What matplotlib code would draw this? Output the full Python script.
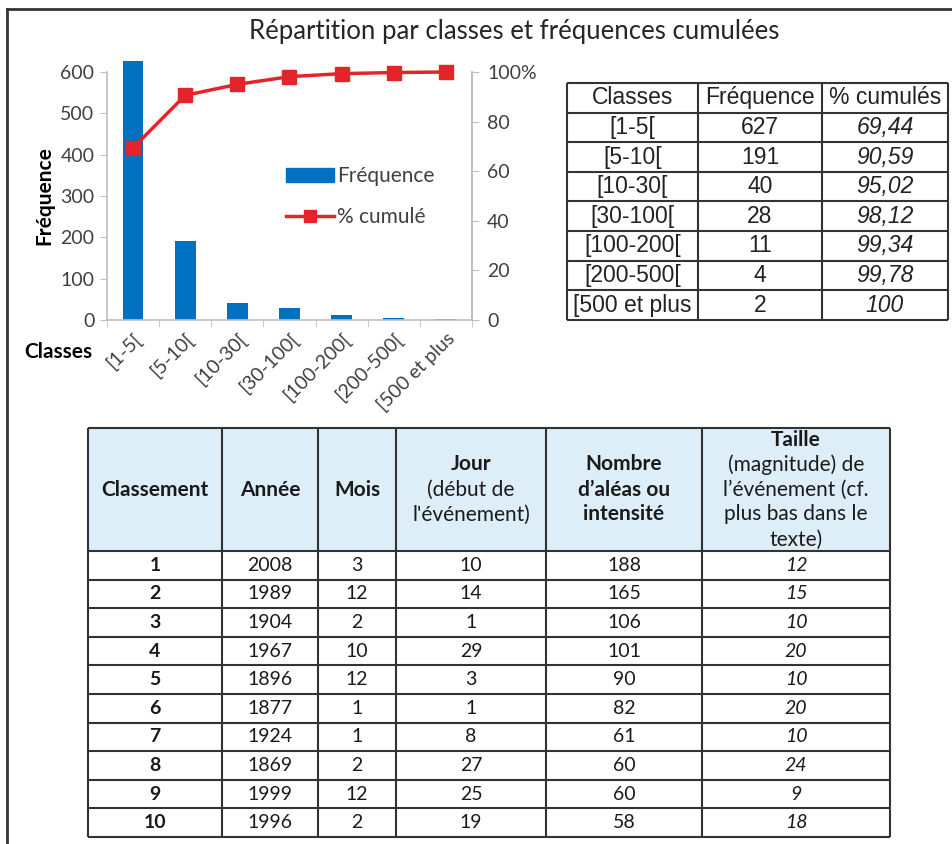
import matplotlib
matplotlib.use("Agg")
import matplotlib.pyplot as plt
from matplotlib.lines import Line2D
from matplotlib.patches import Patch
import numpy as np

# ---------------- data ----------------
classes = ['[1-5[', '[5-10[', '[10-30[', '[30-100[', '[100-200[', '[200-500[', '[500 et plus']
frequence = [627, 191, 40, 28, 11, 4, 2]
cumul = [69.44, 90.59, 95.02, 98.12, 99.34, 99.78, 100]
cumul_labels = ['69,44', '90,59', '95,02', '98,12', '99,34', '99,78', '100']

left_ticks = [0, 100, 200, 300, 400, 500, 600]
right_ticks = [0, 20, 40, 60, 80, 100]
right_tick_labels = ['0', '20', '40', '60', '80', '100%']

classement = [1, 2, 3, 4, 5, 6, 7, 8, 9, 10]
annee = [2008, 1989, 1904, 1967, 1896, 1877, 1924, 1869, 1999, 1996]
mois = [3, 12, 2, 10, 12, 1, 1, 2, 12, 2]
jour = [10, 14, 1, 29, 3, 1, 8, 27, 25, 19]
nombre = [188, 165, 106, 101, 90, 82, 61, 60, 60, 58]
taille = [12, 15, 10, 20, 10, 20, 10, 24, 9, 18]

# headers: list of (text, bold) lines
headers = [
    [("Classement", True)],
    [("Année", True)],
    [("Mois", True)],
    [("Jour", True), ("(début de", False), ("l'événement)", False)],
    [("Nombre", True), ("d’aléas ou", True), ("intensité", True)],
    [("Taille", True), ("(magnitude) de", False), ("l’événement (cf.", False),
     ("plus bas dans le", False), ("texte)", False)],
]

# ---------------- styles ----------------
W, H = 953, 844
FONT = 'Lato'
BLUE = '#0070C0'
RED = '#E3242B'
GRID = '#BFBFBF'
TXT = '#404040'
TICK_FS = 14

fig = plt.figure(figsize=(W / 100, H / 100), dpi=100)
fig.patch.set_facecolor('white')

def fx(px):
    return px / W

def fy(py):
    return 1 - py / H

# frame (top and left edges)
fig.add_artist(Line2D([fx(7), 1], [fy(9), fy(9)], color='#333333', lw=2))
fig.add_artist(Line2D([fx(7), fx(7)], [fy(9), 0], color='#333333', lw=2))

# ---------------- chart ----------------
ax = fig.add_axes([fx(107), fy(320), fx(472) - fx(107), fy(72) - fy(320)])
x = np.arange(len(classes))
bars = ax.bar(x, frequence, width=0.4, color=BLUE, clip_on=False, zorder=2)
ax.set_xlim(-0.5, len(classes) - 0.5)
ax.set_ylim(0, 600)
ax.set_yticks(left_ticks)
ax.set_yticklabels([str(v) for v in left_ticks], fontsize=TICK_FS, color=TXT, family=FONT)
ax.set_xticks(x)
ax.set_xticklabels(classes, rotation=45, ha='right', va='top', rotation_mode='anchor',
                   fontsize=TICK_FS, color=TXT, family=FONT)
ax.set_xticks(np.arange(len(classes) + 1) - 0.5, minor=True)
ax.tick_params(axis='x', which='major', length=0, pad=7)
ax.tick_params(axis='x', which='minor', length=5, color=GRID, direction='out')
ax.tick_params(axis='y', length=5, color=GRID, direction='out', pad=4)
ax.spines['top'].set_visible(False)
for s in ['left', 'bottom', 'right']:
    ax.spines[s].set_color(GRID)
    ax.spines[s].set_linewidth(1.2)
ax.set_ylabel('Fréquence', fontsize=15, fontweight='bold', family=FONT, labelpad=4)

ax2 = ax.twinx()
line, = ax2.plot(x, cumul, color=RED, lw=2.5, marker='s', markersize=10, clip_on=False, zorder=3)
ax2.set_ylim(0, 100)
ax2.set_yticks(right_ticks)
ax2.set_yticklabels(right_tick_labels, fontsize=TICK_FS, color=TXT, family=FONT)
ax2.tick_params(axis='y', length=5, color=GRID, direction='out', pad=6)
for s in ['top', 'left', 'bottom']:
    ax2.spines[s].set_visible(False)
ax2.spines['right'].set_color(GRID)
ax2.spines['right'].set_linewidth(1.2)

ax.text(-0.04, -0.13, 'Classes', transform=ax.transAxes, ha='right', va='center',
        fontsize=15, fontweight='bold', family=FONT)

leg = ax2.legend([Patch(color=BLUE), Line2D([], [], color=RED, lw=2.5, marker='s', markersize=8)],
                 ['Fréquence', '% cumulé'],
                 loc='upper left', bbox_to_anchor=(0.44, 0.695), frameon=False,
                 handlelength=2.3, handletextpad=0.15, labelspacing=1.0,
                 prop={'family': FONT, 'size': 15})
for t in leg.get_texts():
    t.set_color(TXT)

fig.text(fx(514), fy(32), 'Répartition par classes et fréquences cumulées', ha='center', va='center',
         fontsize=18.5, family=FONT, color='#262626')

# ---------------- right table ----------------
axr = fig.add_axes([fx(567), fy(320), fx(948) - fx(567), fy(83) - fy(320)])
rcol_w = [131, 124, 126]
rcol_edges = np.concatenate([[0], np.cumsum(rcol_w)])
nrows_r = len(classes) + 1
axr.set_xlim(0, rcol_edges[-1])
axr.set_ylim(nrows_r, 0)
axr.axis('off')
for e in rcol_edges:
    axr.vlines(e, 0, nrows_r, color='#333333', lw=1.5, clip_on=False)
for r in range(nrows_r + 1):
    axr.hlines(r, 0, rcol_edges[-1], color='#333333', lw=1.5, clip_on=False)
RFONT = 'Liberation Sans'
RFS = 16.5
rc = (rcol_edges[:-1] + rcol_edges[1:]) / 2
for j, h in enumerate(['Classes', 'Fréquence', '% cumulés']):
    axr.text(rc[j], 0.5, h, ha='center', va='center', fontsize=RFS, family=RFONT, color='#222222')
for i in range(len(classes)):
    axr.text(rc[0], i + 1.5, classes[i], ha='center', va='center', fontsize=RFS, family=RFONT, color='#222222')
    axr.text(rc[1], i + 1.5, str(frequence[i]), ha='center', va='center', fontsize=RFS, family=RFONT, color='#222222')
    axr.text(rc[2], i + 1.5, cumul_labels[i], ha='center', va='center', fontsize=RFS, family=RFONT,
             style='italic', color='#222222')

# ---------------- bottom table ----------------
axb = fig.add_axes([fx(88), fy(837), fx(890) - fx(88), fy(428) - fy(837)])
bcol_w = [134, 96, 78, 150, 156, 188]
bcol_edges = np.concatenate([[0], np.cumsum(bcol_w)])
head_h = 123
row_h = 28.6
nrows = len(classement)
total_h = head_h + nrows * row_h
axb.set_xlim(0, bcol_edges[-1])
axb.set_ylim(total_h, 0)
axb.axis('off')
axb.fill_between([0, bcol_edges[-1]], 0, head_h, color='#DDEEF8', lw=0)
for e in bcol_edges:
    axb.vlines(e, 0, total_h, color='#333333', lw=1.5, clip_on=False)
row_edges = [0] + [head_h + k * row_h for k in range(nrows + 1)]
for yv in row_edges:
    axb.hlines(yv, 0, bcol_edges[-1], color='#333333', lw=1.5, clip_on=False)

bc = (bcol_edges[:-1] + bcol_edges[1:]) / 2
HSIZE = 15
BSIZE = 14
for j, lines in enumerate(headers):
    n = len(lines)
    for k, (t, b) in enumerate(lines):
        yv = head_h / 2 + (k - (n - 1) / 2) * 25
        axb.text(bc[j], yv, t, ha='center', va='center', fontsize=HSIZE, family=FONT,
                 fontweight='bold' if b else 'normal', color='#1a1a1a')

cols = [classement, annee, mois, jour, nombre, taille]
for i in range(nrows):
    yc = head_h + (i + 0.5) * row_h
    for j, col in enumerate(cols):
        kw = {}
        if j == 0:
            kw['fontweight'] = 'bold'
        if j == 5:
            kw['style'] = 'italic'
        axb.text(bc[j], yc, str(col[i]), ha='center', va='center', fontsize=BSIZE, family=FONT,
                 color='#1a1a1a', **kw)

fig.savefig('out.png', dpi=100, facecolor='white')
